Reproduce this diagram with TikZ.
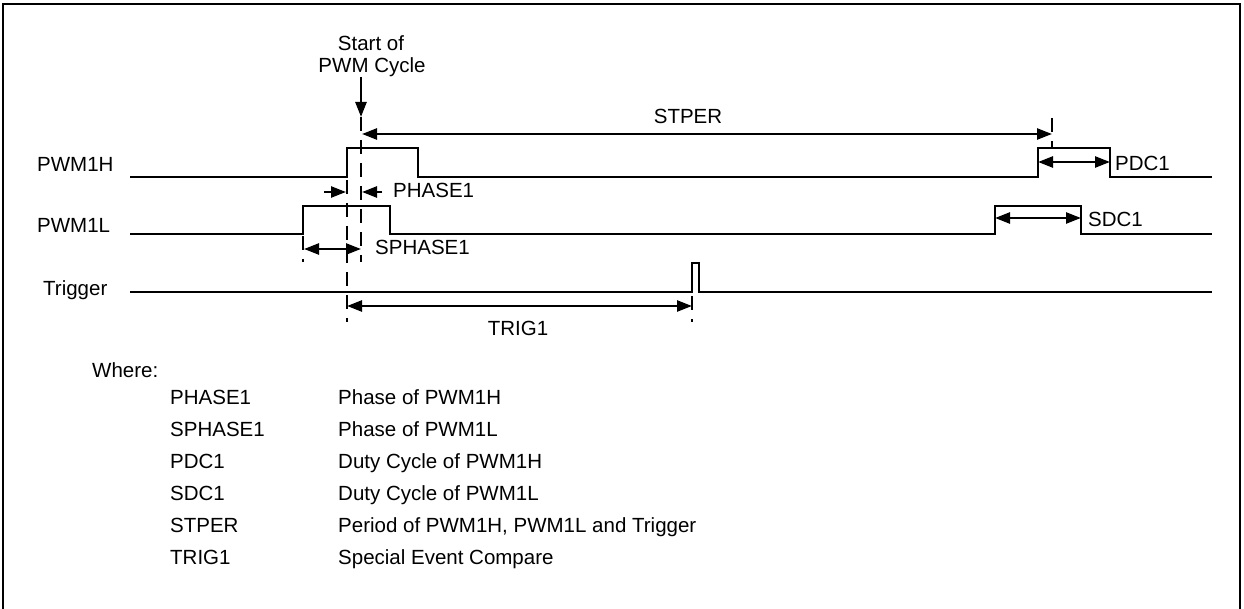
\documentclass[tikz,border=0pt]{standalone}
\usepackage{fontspec}
\setmainfont{Liberation Sans}
\usetikzlibrary{arrows.meta}
\begin{document}
\begin{tikzpicture}[x=1pt,y=-1pt,
  sig/.style={line width=2.6pt, line join=miter},
  dimone/.style={line width=2.4pt, -{Triangle[length=15pt,width=11pt]}},
  dimboth/.style={line width=2.4pt, {Triangle[length=15pt,width=11pt]}-{Triangle[length=15pt,width=11pt]}},
  guide/.style={line width=2.4pt, dash pattern=on 14pt off 9pt},
  lbl/.style={font=\fontsize{20.5}{24}\selectfont, inner sep=0pt},
]
\useasboundingbox (0,0) rectangle (1244,609);
\draw[line width=2.8pt] (3,615) -- (3,4) -- (1240,4) -- (1240,615);

% signal names
\node[lbl, anchor=base west] (nH) at (37,172) {PWM1H};
\node[lbl, anchor=base west] (nL) at (37,233) {PWM1L};
\node[lbl, anchor=base west] (nT) at (43,296) {Trigger};

% waveforms
\draw[sig] (130,177) -- (347,177) -- (347,148) -- (418,148) -- (418,177) -- (1038,177) -- (1038,148) -- (1110,148) -- (1110,177) -- (1212,177);
\draw[sig] (130,234) -- (303,234) -- (303,206) -- (390,206) -- (390,234) -- (995,234) -- (995,206) -- (1081,206) -- (1081,234) -- (1212,234);
\draw[sig] (130,292) -- (692,292) -- (692,263) -- (699,263) -- (699,292) -- (1212,292);

% start of cycle
\node[lbl, anchor=base] (st1) at (371,51) {Start of};
\node[lbl, anchor=base] (st2) at (372,73) {PWM Cycle};
\coordinate (cA) at (361,77);
\coordinate (cB) at (361,117);
\draw[dimone] (cA) -- (cB);

% guide lines
\coordinate (g1a) at (361,117); \coordinate (g1b) at (361,262);
\coordinate (g2a) at (347,180); \coordinate (g2b) at (347,322);
\coordinate (g3a) at (303,236); \coordinate (g3b) at (303,262);
\coordinate (g4a) at (1052,118); \coordinate (g4b) at (1052,148);
\coordinate (g5a) at (692,296); \coordinate (g5b) at (692,322);
\draw[guide] (g1a) -- (g1b);
\draw[guide] (g2a) -- (g2b);
\draw[guide] (g3a) -- (g3b);
\draw[guide] (g4a) -- (g4b);
\draw[guide] (g5a) -- (g5b);

% STPER
\coordinate (sp1) at (362,134); \coordinate (sp2) at (1052,134);
\draw[dimboth] (sp1) -- (sp2);
\node[lbl, anchor=base] (tSTPER) at (688,124) {STPER};

% PHASE1
\coordinate (p1a) at (324,192); \coordinate (p1b) at (346,192);
\coordinate (p2a) at (382,192); \coordinate (p2b) at (362,192);
\draw[dimone] (p1a) -- (p1b);
\draw[dimone] (p2a) -- (p2b);
\node[lbl, anchor=base west] (tPH) at (393,198) {PHASE1};

% SPHASE1
\coordinate (s1) at (304,249); \coordinate (s2) at (361,249);
\draw[dimboth] (s1) -- (s2);
\node[lbl, anchor=base west] (tSPH) at (375,255) {SPHASE1};

% TRIG1
\coordinate (t1) at (347,306); \coordinate (t2) at (692,306);
\draw[dimboth] (t1) -- (t2);
\node[lbl, anchor=base] (tTR) at (518,335) {TRIG1};

% PDC1
\coordinate (d1) at (1038,162); \coordinate (d2) at (1110,162);
\draw[dimboth] (d1) -- (d2);
\node[lbl, anchor=base west] (tPDC) at (1115,171) {PDC1};

% SDC1
\coordinate (e1) at (995,218); \coordinate (e2) at (1081,218);
\draw[dimboth] (e1) -- (e2);
\node[lbl, anchor=base west] (tSDC) at (1088,227) {SDC1};

% legend
\node[lbl, anchor=base west] (where) at (92,377) {Where:};
\node[lbl, anchor=base west] (k1) at (170,404) {PHASE1};
\node[lbl, anchor=base west] (v1) at (338,404) {Phase of PWM1H};
\node[lbl, anchor=base west] (k2) at (170,436) {SPHASE1};
\node[lbl, anchor=base west] (v2) at (338,436) {Phase of PWM1L};
\node[lbl, anchor=base west] (k3) at (170,468) {PDC1};
\node[lbl, anchor=base west] (v3) at (338,468) {Duty Cycle of PWM1H};
\node[lbl, anchor=base west] (k4) at (170,500) {SDC1};
\node[lbl, anchor=base west] (v4) at (338,500) {Duty Cycle of PWM1L};
\node[lbl, anchor=base west] (k5) at (170,532) {STPER};
\node[lbl, anchor=base west] (v5) at (338,532) {Period of PWM1H, PWM1L and Trigger};
\node[lbl, anchor=base west] (k6) at (170,564) {TRIG1};
\node[lbl, anchor=base west] (v6) at (338,564) {Special Event Compare};
\end{tikzpicture}
\end{document}
